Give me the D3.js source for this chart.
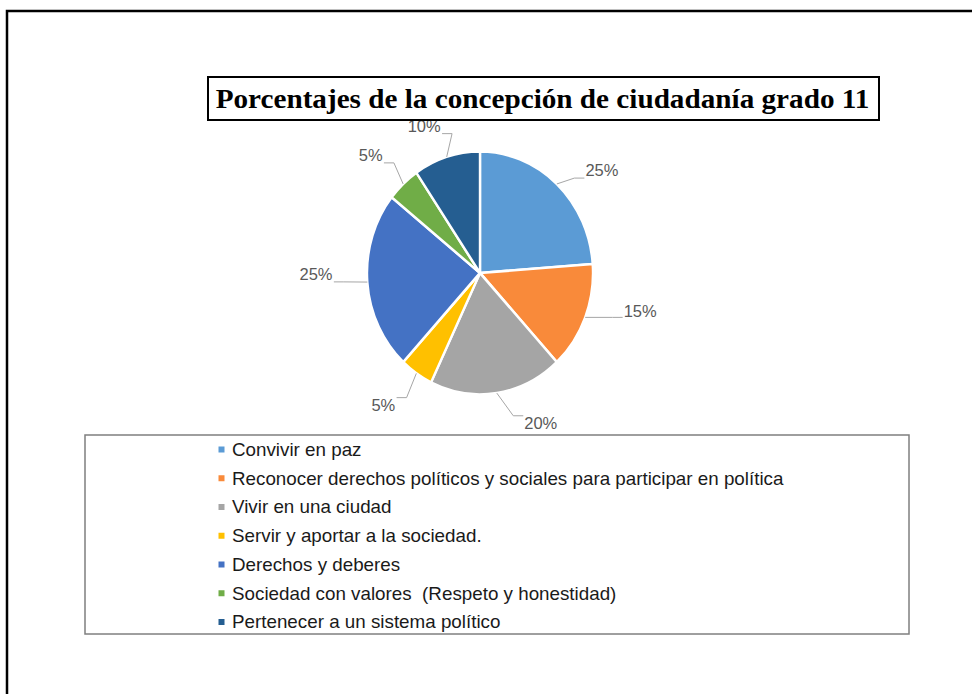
<!DOCTYPE html>
<html>
<head>
<meta charset="utf-8">
<script src="https://cdn.jsdelivr.net/npm/d3@7"></script>
<style>
  html, body { margin: 0; padding: 0; background: #fff; }
  svg { display: block; }
  text { white-space: pre; }
</style>
</head>
<body>
<svg id="chart" width="972" height="694"></svg>
<script>
// ---- data ----
const categories = [
  "Convivir en paz",
  "Reconocer derechos políticos y sociales para participar en política",
  "Vivir en una ciudad",
  "Servir y aportar a la sociedad.",
  "Derechos y deberes",
  "Sociedad con valores  (Respeto y honestidad)",
  "Pertenecer a un sistema político"
];
const values = [25, 15, 20, 5, 25, 5, 10];           // percentages as shown in the labels
const colors = ["#5B9BD5", "#F98A3A", "#A5A5A5", "#FFC000", "#4472C4", "#70AD47", "#255E91"];
const titleText = "Porcentajes de la concepción de ciudadanía grado 11";

// ---- layout (not data) ----
const W = 972, H = 694;
const cx = 480, cy = 273, R = 113, yStretch = 1.075;
const labelDist = [155, 164, 152, 156, 164, 155, 148];
const labelShiftDeg = [9, -9, -15, 4, 4, -2, -5];

const svg = d3.select("#chart");

// outer frame
svg.append("path")
  .attr("d", `M7,${H} L7,11 L${W},11`)
  .attr("fill", "none").attr("stroke", "#000").attr("stroke-width", 2.5);

// pie
const pie = d3.pie().sort(null).value(d => d)(values);
const arc = d3.arc().innerRadius(0).outerRadius(R);

const g = svg.append("g").attr("transform", `translate(${cx},${cy}) scale(1,${yStretch})`);
g.selectAll("path.slice").data(pie).join("path")
  .attr("class", "slice")
  .attr("d", arc)
  .attr("fill", (d, i) => colors[i])
  .attr("stroke", "#fff")
  .attr("stroke-width", 2.4)
  .attr("stroke-linejoin", "round");

// data labels with leader lines
const lblG = svg.append("g");
pie.forEach((d, i) => {
  const mid = (d.startAngle + d.endAngle) / 2;
  const la = mid + labelShiftDeg[i] * Math.PI / 180;
  const lx = cx + labelDist[i] * Math.sin(la);
  const ly = cy - labelDist[i] * Math.cos(la) * yStretch;
  const t = lblG.append("text")
    .attr("x", lx).attr("y", ly)
    .attr("text-anchor", "middle")
    .attr("dominant-baseline", "central")
    .attr("font-family", "Liberation Sans, Arial, sans-serif")
    .attr("font-size", 16.5)
    .attr("fill", "#595959")
    .text(values[i] + "%");
  const bb = t.node().getBBox();
  const sx = cx + R * Math.sin(mid);
  const sy = cy - R * Math.cos(mid) * yStretch;
  const bx0 = bb.x - 1, bx1 = bb.x + bb.width + 1, by0 = bb.y + 2, by1 = bb.y + bb.height - 1;
  const ex = Math.max(bx0, Math.min(sx, bx1));
  const ey = Math.max(by0, Math.min(sy, by1));
  let pts;
  if (ex === bx0 || ex === bx1) {
    const dir = ex === bx0 ? -1 : 1;
    pts = [[sx, sy], [ex + dir * 10, ey], [ex, ey]];
  } else {
    pts = [[sx, sy], [ex, ey]];
  }
  lblG.insert("path", "text")
    .attr("d", d3.line()(pts))
    .attr("fill", "none").attr("stroke", "#A6A6A6").attr("stroke-width", 1);
});

// title box
const titleG = svg.append("g");
titleG.append("rect")
  .attr("x", 208).attr("y", 77).attr("width", 671).attr("height", 43)
  .attr("fill", "#fff").attr("stroke", "#000").attr("stroke-width", 2);
const tt = titleG.append("text")
  .attr("text-anchor", "middle")
  .attr("font-family", "Liberation Serif, Times New Roman, serif")
  .attr("font-weight", "bold")
  .attr("font-size", 28)
  .attr("fill", "#000")
  .text(titleText);
const tLen = tt.node().getComputedTextLength();
tt.attr("transform", `translate(542.5,107.5) scale(${654 / tLen},1)`);

// legend
const legG = svg.append("g");
legG.append("rect")
  .attr("x", 85).attr("y", 435).attr("width", 824).attr("height", 199)
  .attr("fill", "#fff").attr("stroke", "#7F7F7F").attr("stroke-width", 1.5);
const rowY = d3.scalePoint().domain(d3.range(categories.length)).range([449.5, 622]);
const legText = legG.append("g");
categories.forEach((c, i) => {
  legG.append("rect")
    .attr("x", 218.5).attr("y", rowY(i) - 3).attr("width", 6).attr("height", 6)
    .attr("fill", colors[i]);
  legText.append("text")
    .attr("x", 0).attr("y", rowY(i) + 6.5)
    .attr("font-family", "Liberation Sans, Arial, sans-serif")
    .attr("font-size", 18)
    .attr("fill", "#1a1a1a")
    .attr("xml:space", "preserve")
    .text(c);
});
const maxLen = d3.max(legText.selectAll("text").nodes(), n => n.getComputedTextLength());
legText.attr("transform", `translate(232,0) scale(${552 / maxLen},1)`);
</script>
</body>
</html>
